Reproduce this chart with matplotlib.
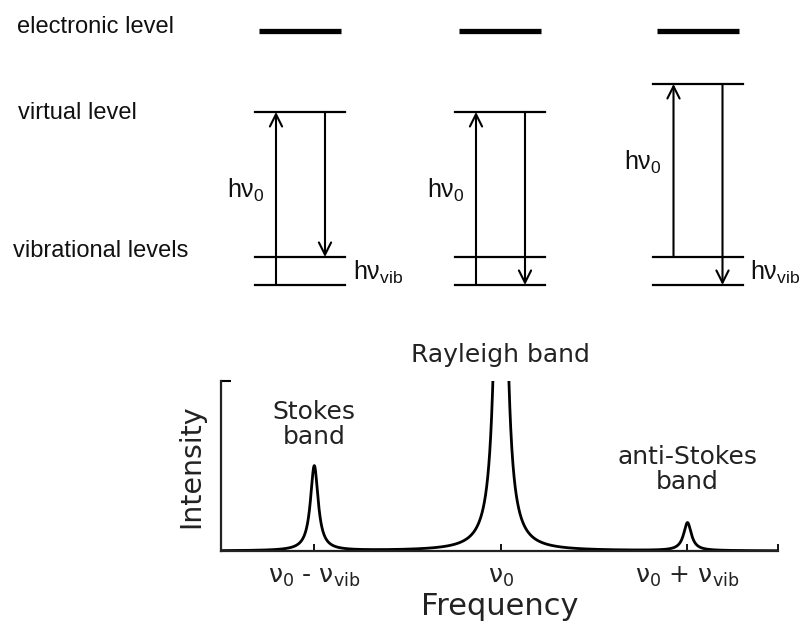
import matplotlib
matplotlib.use("Agg")
import matplotlib.pyplot as plt
import numpy as np

plt.rcParams["font.family"] = ["Liberation Sans", "DejaVu Sans"]
plt.rcParams["mathtext.fontset"] = "custom"
plt.rcParams["mathtext.rm"] = "Liberation Sans"
plt.rcParams["mathtext.it"] = "Liberation Sans"

# energy diagram (energies in units of h*nu_vib)
process_names = ["Stokes", "Rayleigh", "anti-Stokes"]
vib_levels = [0, 1]
h_nu0 = 6.18
electronic_level = 9.07
initial_level = [0, 0, 1]
final_level = [1, 0, 0]
level_labels = ["electronic level", "virtual level", "vibrational levels"]

# spectrum (frequency in units of nu_vib, relative to nu_0)
peak_pos = [-1.0, 0.0, 1.0]
peak_height = [0.50, 4.2, 0.165]
peak_width = [0.025, 0.024, 0.025]
tick_labels = [r"ν$_0$ - ν$_{\mathrm{vib}}$", r"ν$_0$",
               r"ν$_0$ + ν$_{\mathrm{vib}}$"]
band_labels = ["Stokes\nband", "Rayleigh band", "anti-Stokes\nband"]


def draw_levels(ax):
    centers = [300, 500, 697.5]
    half = 45
    for i, c in enumerate(centers):
        ax.plot([c - 41, c + 41], [electronic_level] * 2, color="black",
                lw=3.8, solid_capstyle="butt")
        virtual = initial_level[i] + h_nu0
        ax.plot([c - half, c + half], [virtual] * 2, color="black", lw=1.6)
        for v in vib_levels:
            ax.plot([c - half, c + half], [v, v], color="black", lw=1.6)
        up_x = c - 24
        down_x = c + 25
        ax.annotate("", xy=(up_x, virtual), xytext=(up_x, initial_level[i]),
                    arrowprops=dict(arrowstyle="->", lw=1.5, color="black",
                                    mutation_scale=22, shrinkA=0, shrinkB=0))
        ax.annotate("", xy=(down_x, final_level[i]), xytext=(down_x, virtual),
                    arrowprops=dict(arrowstyle="->", lw=1.5, color="black",
                                    mutation_scale=22, shrinkA=0, shrinkB=0))
        ax.text(up_x - 12, initial_level[i] + h_nu0 / 2 + 0.3, r"h$\nu_0$",
                fontsize=18, ha="right", va="center", color="#111111")
        if initial_level[i] != final_level[i]:
            ax.text(c + half + 8, 0.45, r"h$\nu_{\mathrm{vib}}$",
                    fontsize=18, ha="left", va="center", color="#111111")

    ax.text(17, electronic_level + 0.15, level_labels[0], fontsize=17,
            ha="left", va="center", color="#111111")
    ax.text(18, h_nu0 - 0.05, level_labels[1], fontsize=17,
            ha="left", va="center", color="#111111")
    ax.text(13, 1.2, level_labels[2], fontsize=17,
            ha="left", va="center", color="#111111")


def draw_spectrum(fig):
    sax = fig.add_axes([221 / 807, 70 / 621, 557 / 807, 170 / 621])
    x = np.linspace(-1.5, 1.485, 3000)
    y = np.zeros_like(x)
    for p, h, g in zip(peak_pos, peak_height, peak_width):
        y += h * g ** 2 / ((x - p) ** 2 + g ** 2)
    sax.plot(x, y, color="black", lw=2.0)
    sax.set_xlim(-1.5, 1.485)
    sax.set_ylim(0, 1)
    sax.spines["top"].set_visible(False)
    sax.spines["right"].set_visible(False)
    for s in ["left", "bottom"]:
        sax.spines[s].set_linewidth(1.6)
        sax.spines[s].set_color("#222222")
    sax.set_xticks(peak_pos)
    sax.set_xticklabels(tick_labels, fontsize=18, color="#222222",
                        family="DejaVu Sans")
    for t in sax.get_xticklabels():
        t.set_math_fontfamily("dejavusans")
    sax.set_xticks([1.485], minor=True)
    sax.set_yticks([1.0])
    sax.set_yticklabels([])
    sax.tick_params(axis="x", which="both", direction="in", length=5,
                    width=1.3, pad=10)
    sax.tick_params(axis="y", direction="in", length=7, width=1.5)
    sax.set_xlabel("Frequency", fontsize=22, family="DejaVu Sans",
                   color="#222222", labelpad=2)
    sax.set_ylabel("Intensity", fontsize=20.5, family="DejaVu Sans",
                   color="#222222", labelpad=8)

    label_y = [0.60, 1.08, 0.335]
    for p, lab, ly in zip(peak_pos, band_labels, label_y):
        sax.text(p, ly, lab, fontsize=18, family="DejaVu Sans", ha="center",
                 va="bottom", linespacing=1.05, color="#222222")


fig = plt.figure(figsize=(8.07, 6.21), dpi=100)
ax = fig.add_axes([0, 0, 1, 1])
ax.set_xlim(0, 807)
ax.set_ylim((285 - 621) / 28, 285 / 28)
ax.axis("off")

draw_levels(ax)
draw_spectrum(fig)

fig.savefig("out.png", dpi=100)
